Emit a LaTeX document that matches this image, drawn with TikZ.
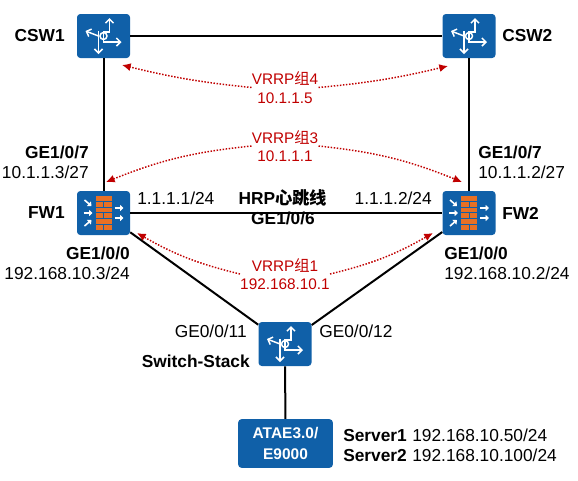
\documentclass[tikz,border=0pt]{standalone}
\usepackage{fontspec}
\setmainfont{Liberation Sans}
\newfontfamily\cjk{Noto Sans CJK SC}
\usepackage{tikz}
\usetikzlibrary{arrows.meta, positioning}
\definecolor{netblue}{RGB}{16,96,168}
\definecolor{wallorange}{RGB}{232,112,36}
\definecolor{vrrpred}{RGB}{192,0,0}

\tikzset{
  routerglyph/.pic={
    \draw[glyph] (0,0) -- (0,-4) -- (6,-4) -- (6,-18);
    \draw[glyph] (-5,0) -- (-18,-5);
    \draw[glyph] (0,0) -- (0,6) -- (18,6);
    \draw[glyph] (-5,-5) -- (-5,18);
    \draw[white, line width=1.1pt] (0,0) circle[radius=3.5];
  },
  wallglyph/.pic={
    % Bricks
    \foreach \y in {-17,-5.4,6.2} {
      \fill[wallorange] (-8,\y) rectangle (8,\y+4.8);
      \fill[wallorange] (-8,\y+5.8) rectangle (-0.5,\y+10.6);
      \fill[wallorange] (0.5,\y+5.8) rectangle (8,\y+10.6);
    }
    % Arrows in and out
    \draw[flowarr] (-19,-13) -- (-12,-7);
    \draw[flowarr] (-20,0) -- (-11,0);
    \draw[flowarr] (-19,13) -- (-12,7);
    \draw[flowarr] (11,-5) -- (20,-5);
    \draw[flowarr] (11,5) -- (20,5);
  }
}

\begin{document}
\begin{tikzpicture}[
  x=0.75pt, y=-0.75pt,
  netbox/.style={fill=netblue, rounded corners=2.5pt, minimum width=39.75pt,
                 minimum height=33pt, inner sep=0pt},
  hostbox/.style={fill=netblue, rounded corners=2.5pt, minimum width=71pt,
                  minimum height=36.5pt, inner sep=0pt, align=center, text=white,
                  font=\fontsize{11.6}{15.5}\selectfont\bfseries},
  glyph/.style={white, line width=1.1pt, -{Straight Barb[length=3pt,width=6pt]}},
  flowarr/.style={white, line width=1.2pt, -{Triangle[length=2.6pt,width=4.6pt]}},
  link/.style={black, line width=1.5pt},
  lbl/.style={inner sep=0pt, font=\fontsize{13}{15}\selectfont},
  lblb/.style={lbl, font=\fontsize{13}{15}\selectfont\bfseries},
  vrrp/.style={inner sep=0pt, align=center, text=vrrpred,
               font=\fontsize{11.5}{14}\selectfont},
  hb/.style={-{Latex[length=6.5pt,width=6pt]}, vrrpred, line width=1.1pt,
             dash pattern=on 1.1pt off 1.2pt},
]
  \useasboundingbox (0,0) rectangle (578,480);

  % Devices
  \node[netbox] (csw1) at (103.5,36) {};
  \node[netbox] (csw2) at (469,36) {};
  \node[netbox] (fw1) at (103.5,213) {};
  \node[netbox] (fw2) at (469,213) {};
  \node[netbox] (sw) at (285,344) {};
  \node[hostbox] (atae) at (285.5,443.5) {ATAE3.0/\\E9000};

  \pic at (csw1) {routerglyph};
  \pic at (csw2) {routerglyph};
  \pic at (sw) {routerglyph};
  \pic at (fw1) {wallglyph};
  \pic at (fw2) {wallglyph};

  % Links
  \draw[link] (csw1) -- (csw2);
  \draw[link] (csw1) -- (fw1);
  \draw[link] (csw2) -- (fw2);
  \draw[link] (fw1) -- (fw2);
  \draw[link] (fw1) -- (sw);
  \draw[link] (fw2) -- (sw);
  \draw[link] (sw) -- (atae);

  % Device names
  \node[lblb, anchor=east] (csw1name) at (65,36) {CSW1};
  \node[lblb, anchor=west] (csw2name) at (502,36) {CSW2};
  \node[lblb, anchor=east] (fw1name) at (65,213) {FW1};
  \node[lblb, anchor=west] (fw2name) at (502,213) {FW2};
  \node[lblb, anchor=east] (swname) at (250,361) {Switch-Stack};

  % Port labels
  \node[lbl, anchor=east, align=right] (p1) at (89,162) {\textbf{GE1/0/7}\\10.1.1.3/27};
  \node[lbl, anchor=west, align=left] (p2) at (478,162) {\textbf{GE1/0/7}\\10.1.1.2/27};
  \node[lbl, anchor=east, align=right] (p3) at (130,263) {\textbf{GE1/0/0}\\192.168.10.3/24};
  \node[lbl, anchor=west, align=left] (p4) at (444,263) {\textbf{GE1/0/0}\\192.168.10.2/24};
  \node[lbl, anchor=west] (ip1) at (137,198) {1.1.1.1/24};
  \node[lbl, anchor=east] (ip2) at (432,198) {1.1.1.2/24};
  \node[lbl, anchor=east] (p5) at (247,331) {GE0/0/11};
  \node[lbl, anchor=west] (p6) at (319,331) {GE0/0/12};
  \node[lblb, align=center] (hrp) at (283,207.5) {HRP{\cjk 心跳线}\\GE1/0/6};

  % Servers
  \node[lblb, anchor=west, align=left] (srvname) at (343,445.5) {Server1\\Server2};
  \node[lbl, anchor=west, align=left] (srvip) at (412,445.5) {192.168.10.50/24\\192.168.10.100/24};

  % VRRP groups
  \node[vrrp] (vrrp4) at (285,87.5) {VRRP{\cjk 组}4\\10.1.1.5};
  \node[vrrp] (vrrp3) at (285,146) {VRRP{\cjk 组}3\\10.1.1.1};
  \node[vrrp] (vrrp1) at (285,274) {VRRP{\cjk 组}1\\192.168.10.1};
  \coordinate (t4l) at (122,65);
  \coordinate (t4r) at (448,66);
  \coordinate (t3l) at (106,182);
  \coordinate (t3r) at (462,182);
  \coordinate (t1l) at (137,233);
  \coordinate (t1r) at (433,233);

  \draw[hb] (vrrp4.west) to[bend left=4] (t4l);
  \draw[hb] (vrrp4.east) to[bend right=4] (t4r);
  \draw[hb] (vrrp3.west) to[bend right=8] (t3l);
  \draw[hb] (vrrp3.east) to[bend left=8] (t3r);
  \draw[hb] (vrrp1.west) to[bend left=8] (t1l);
  \draw[hb] (vrrp1.east) to[bend right=8] (t1r);
\end{tikzpicture}
\end{document}
